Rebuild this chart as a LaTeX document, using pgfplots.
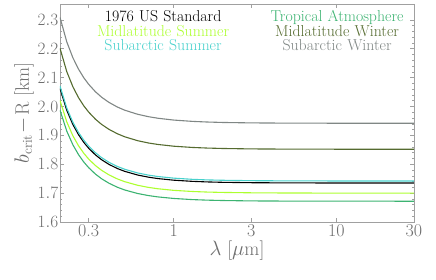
\documentclass[border=0pt]{standalone}
\usepackage{fontspec}
\usepackage{pgfplots}
\pgfplotsset{compat=1.18}
\usetikzlibrary{calc}
\definecolor{framegray}{RGB}{160,160,160}
\definecolor{labgray}{RGB}{110,110,110}
\definecolor{cUS}{RGB}{0,0,0}
\definecolor{cTrop}{RGB}{60,179,113}
\definecolor{cMLS}{RGB}{173,255,47}
\definecolor{cMLW}{RGB}{85,107,47}
\definecolor{cSAS}{RGB}{72,209,204}
\definecolor{cSAW}{RGB}{128,135,133}
\begin{document}
\begin{tikzpicture}
\begin{axis}[name=ax,
  scale only axis, width=354pt, height=218pt,
  xmode=log, xmin=0.2, xmax=30, ymin=1.6, ymax=2.355,
  xtick={0.3,1,3,10,30}, xticklabels={0.3,1,3,10,30},
  ytick={1.6,1.7,1.8,1.9,2.0,2.1,2.2,2.3},
  yticklabel style={/pgf/number format/fixed,/pgf/number format/fixed zerofill,/pgf/number format/precision=1, inner sep=1.5pt},
  xticklabel style={inner sep=2pt},
  minor y tick num=4, xminorticks=false,
  tick align=inside, major tick length=4pt, minor tick length=2pt,
  axis line style={framegray, line width=0.6pt},
  every tick/.style={framegray, line width=0.5pt},
  tick label style={text=labgray, font=\fontsize{18}{20}\selectfont},
  label style={text=labgray, font=\fontsize{19.5}{21}\selectfont},
  xlabel={$\lambda$ [$\mu$m]},
  ylabel={$b_{\mathrm{crit}}\!-\!\mathrm{R}$ [km]},
  xlabel style={inner sep=0pt, yshift=-2pt},
  ylabel style={yshift=-1pt},
  legend columns=2,
  legend image code/.code={},
  legend style={at={(rel axis cs:0.537,0.98)}, anchor=north, draw=none, fill=none,
    column sep=0pt, row sep=0pt,
    nodes={text width=174pt, align=center, inner sep=0pt, text height=11pt, text depth=3.5pt, font=\fontsize{15.8}{15}\selectfont}},
  every axis plot/.append style={line width=1.1pt},
]
\addplot[cUS] coordinates {(0.2,2.0625)(0.22,1.9872)(0.24,1.9376)(0.26,1.9023)(0.28,1.8759)(0.3,1.8555)(0.33,1.8326)(0.36,1.8158)(0.4,1.7995)(0.45,1.7853)(0.5,1.7754)(0.6,1.7627)(0.7,1.7552)(0.8,1.7504)(1,1.7448)(1.3,1.7408)(1.6,1.7388)(2,1.7374)(3,1.7361)(5,1.7354)(10,1.7351)(30,1.7350)};
\addlegendentry[text=cUS]{1976 US Standard}
\addplot[cTrop] coordinates {(0.2,1.9876)(0.22,1.9151)(0.24,1.8673)(0.26,1.8332)(0.28,1.8078)(0.3,1.7882)(0.33,1.7661)(0.36,1.7499)(0.4,1.7342)(0.45,1.7205)(0.5,1.7109)(0.6,1.6987)(0.7,1.6915)(0.8,1.6869)(1,1.6815)(1.3,1.6776)(1.6,1.6757)(2,1.6744)(3,1.6730)(5,1.6724)(10,1.6721)(30,1.6720)};
\addlegendentry[text=cTrop]{Tropical Atmosphere}
\addplot[cMLS] coordinates {(0.2,2.0209)(0.22,1.9471)(0.24,1.8986)(0.26,1.8639)(0.28,1.8381)(0.3,1.8181)(0.33,1.7956)(0.36,1.7792)(0.4,1.7632)(0.45,1.7493)(0.5,1.7396)(0.6,1.7272)(0.7,1.7198)(0.8,1.7151)(1,1.7096)(1.3,1.7057)(1.6,1.7037)(2,1.7024)(3,1.7011)(5,1.7004)(10,1.7001)(30,1.7000)};
\addlegendentry[text=cMLS]{Midlatitude Summer}
\addplot[cMLW] coordinates {(0.2,2.2016)(0.22,2.1212)(0.24,2.0683)(0.26,2.0306)(0.28,2.0024)(0.3,1.9807)(0.33,1.9562)(0.36,1.9382)(0.4,1.9209)(0.45,1.9057)(0.5,1.8951)(0.6,1.8816)(0.7,1.8736)(0.8,1.8685)(1,1.8625)(1.3,1.8582)(1.6,1.8561)(2,1.8546)(3,1.8531)(5,1.8524)(10,1.8521)(30,1.8520)};
\addlegendentry[text=cMLW]{Midlatitude Winter}
\addplot[cSAS] coordinates {(0.2,2.0709)(0.22,1.9952)(0.24,1.9455)(0.26,1.9100)(0.28,1.8835)(0.3,1.8630)(0.33,1.8400)(0.36,1.8231)(0.4,1.8068)(0.45,1.7925)(0.5,1.7826)(0.6,1.7699)(0.7,1.7623)(0.8,1.7575)(1,1.7519)(1.3,1.7478)(1.6,1.7458)(2,1.7445)(3,1.7431)(5,1.7424)(10,1.7421)(30,1.7420)};
\addlegendentry[text=cSAS]{Subarctic Summer}
\addplot[cSAW] coordinates {(0.2,2.3086)(0.22,2.2243)(0.24,2.1688)(0.26,2.1293)(0.28,2.0997)(0.3,2.0769)(0.33,2.0513)(0.36,2.0324)(0.4,2.0142)(0.45,1.9983)(0.5,1.9872)(0.6,1.9731)(0.7,1.9647)(0.8,1.9593)(1,1.9530)(1.3,1.9485)(1.6,1.9463)(2,1.9447)(3,1.9432)(5,1.9424)(10,1.9421)(30,1.9420)};
\addlegendentry[text=cSAW]{Subarctic Winter}
\end{axis}
\pgfresetboundingbox
\path ($(ax.south west)+(-60pt,-58pt)$) rectangle ($(ax.north east)+(22pt,4pt)$);
\end{tikzpicture}
\end{document}
